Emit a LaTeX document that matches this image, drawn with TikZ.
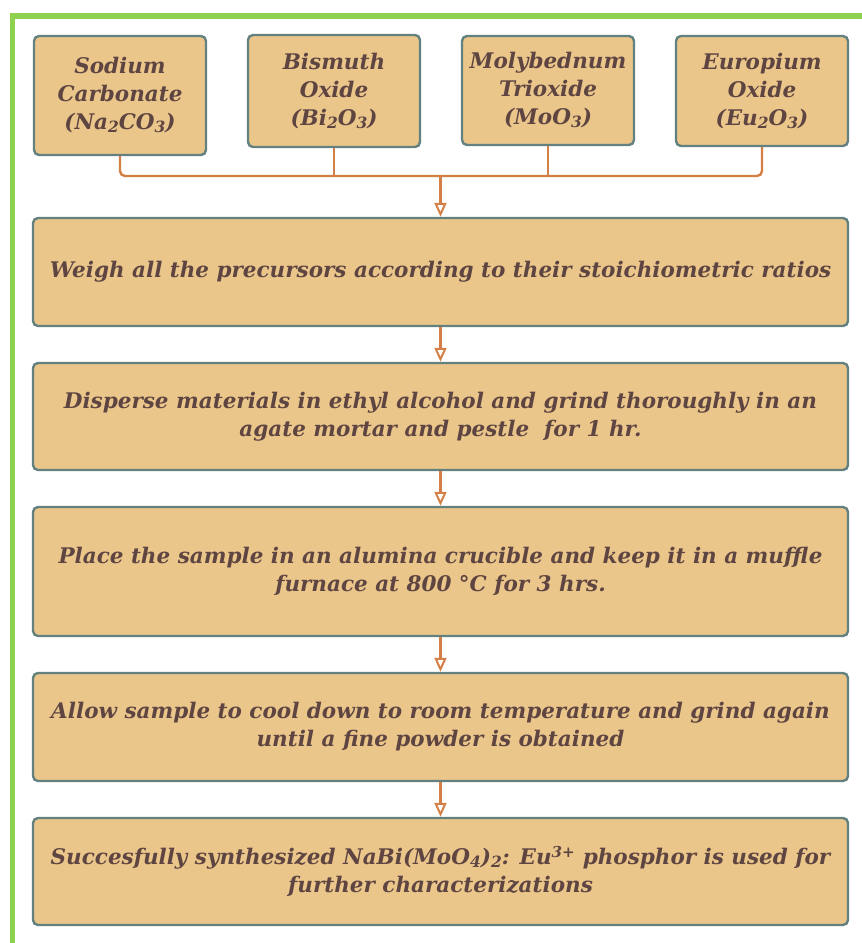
\documentclass[tikz,border=0pt]{standalone}
\usepackage{fontspec}
\usepackage{graphicx}
\setmainfont{DejaVu Serif}
\usetikzlibrary{arrows.meta}
\definecolor{boxfill}{HTML}{EBC68B}
\definecolor{boxline}{HTML}{63817F}
\definecolor{txt}{HTML}{5E4541}
\definecolor{conn}{HTML}{D47F45}
\definecolor{frame}{HTML}{8ED14F}
\newcommand{\chsub}[1]{\raisebox{-0.12em}{\scalebox{0.72}{#1}}}
\tikzset{
  base/.style={draw=boxline, line width=2.4pt, fill=boxfill, rounded corners=5pt,
    text=txt, font=\fontsize{21.5}{28}\selectfont\bfseries\itshape, align=center,
    inner sep=0pt},
  topbox/.style={base, minimum width=172pt},
  stepbox/.style={base, minimum width=815pt},
  link/.style={draw=conn, line width=2.4pt},
  flow/.style={link, -{Triangle[open, length=14pt, width=12pt, line width=2pt]}}
}
\begin{document}
\begin{tikzpicture}[x=1pt,y=-1pt]
\useasboundingbox (0,0) rectangle (862,943);
\draw[frame, line width=5.5pt] (12.3,943) -- (12.3,15.8) -- (862,15.8);

\node[topbox, minimum height=119pt] (s1) at (120,95.5) {Sodium\\Carbonate\\(Na\chsub{2}CO\chsub{3})};
\node[topbox, minimum height=112pt] (s2) at (334,91) {Bismuth\\Oxide\\(Bi\chsub{2}O\chsub{3})};
\node[topbox, minimum height=109pt] (s3) at (548,90.5) {Molybednum\\Trioxide\\(MoO\chsub{3})};
\node[topbox, minimum height=110pt] (s4) at (762,91) {Europium\\Oxide\\(Eu\chsub{2}O\chsub{3})};

\node[stepbox, minimum height=108pt] (a) at (440.5,272) {Weigh all the precursors according to their stoichiometric ratios};
\node[stepbox, minimum height=107pt] (b) at (440.5,416.5) {Disperse materials in ethyl alcohol and grind thoroughly in an\\agate mortar and pestle \ for 1 hr.};
\node[stepbox, minimum height=129pt] (c) at (440.5,571.5) {Place the sample in an alumina crucible and keep it in a muffle\\furnace at 800 °C for 3 hrs.};
\node[stepbox, minimum height=108pt] (d) at (440.5,727) {Allow sample to cool down to room temperature and grind again\\until a fine powder is obtained};
\node[stepbox, minimum height=107pt] (e) at (440.5,871.5) {Succesfully synthesized NaBi(MoO\chsub{4})\chsub{2}: Eu\textsuperscript{3+} phosphor is used for\\further characterizations};

\coordinate (bus) at (440.5,176);
\draw[link, rounded corners=5pt] (s1.south) |- (bus) -| (s4.south);
\draw[link] (s2.south) -- (s2.south |- bus);
\draw[link] (s3.south) -- (s3.south |- bus);
\draw[flow] (bus) -- (a.north);
\draw[flow] (a.south) -- (b.north);
\draw[flow] (b.south) -- (c.north);
\draw[flow] (c.south) -- (d.north);
\draw[flow] (d.south) -- (e.north);
\end{tikzpicture}
\end{document}
